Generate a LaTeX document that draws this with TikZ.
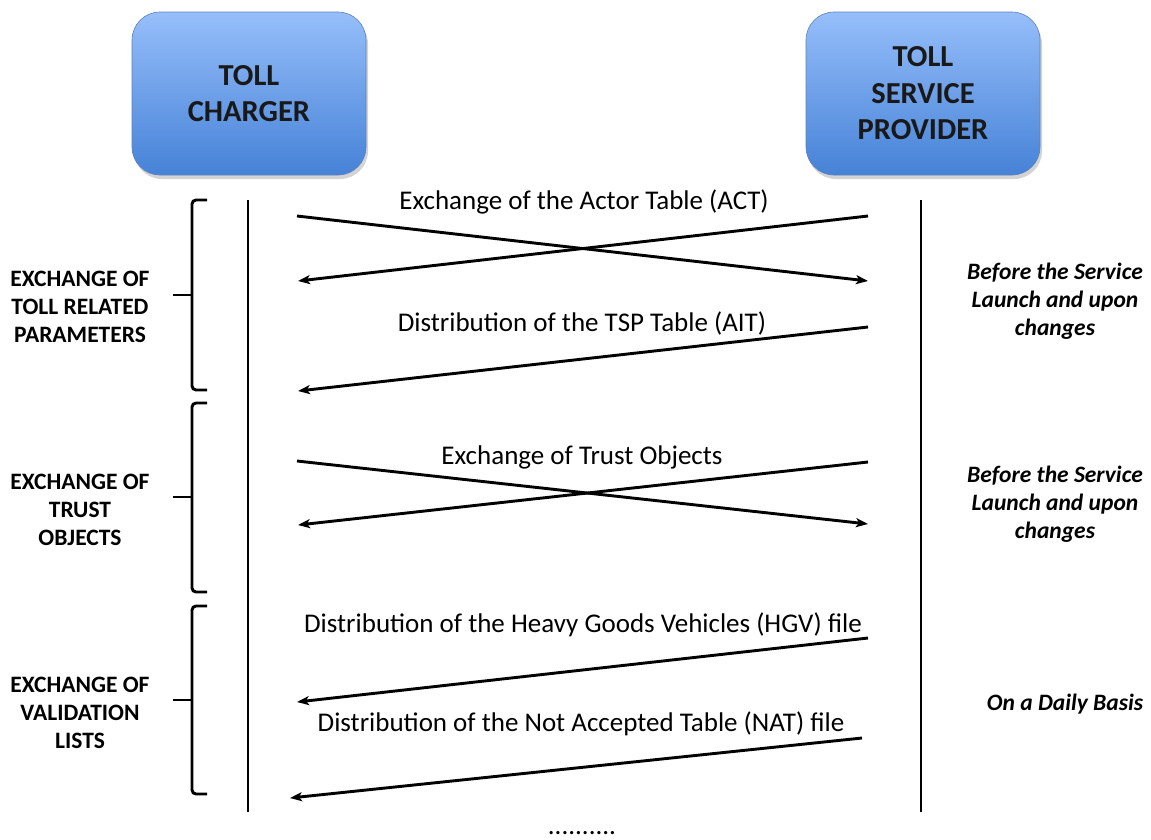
\documentclass[tikz,border=0pt]{standalone}
\usepackage{fontspec}
\setmainfont{Carlito}
\usetikzlibrary{arrows.meta,shadows}
\definecolor{boxtop}{RGB}{150,190,250}
\definecolor{boxbot}{RGB}{70,130,215}
\definecolor{boxedge}{RGB}{90,130,190}
\begin{document}
\begin{tikzpicture}[x=1pt,y=-1pt,
  actor/.style={rounded corners=28pt, minimum width=234pt, minimum height=163pt,
    top color=boxtop, bottom color=boxbot, draw=boxedge, line width=0.6pt,
    drop shadow={opacity=0.35, shadow xshift=2pt, shadow yshift=-4pt},
    font=\bfseries\fontsize{30.5}{36.5}\selectfont, align=center, text=black!90, inner sep=0pt},
  life/.style={line width=2.9pt},
  msg/.style={line width=2.9pt, -{Stealth[length=12pt,width=9pt,inset=3pt]}},
  msglabel/.style={font=\fontsize{27}{32}\selectfont, anchor=base, inner sep=0pt},
  brace/.style={line width=2.9pt, rounded corners=4pt},
  phase/.style={font=\bfseries\fontsize{23.5}{28}\selectfont, align=center, inner sep=0pt},
  when/.style={font=\bfseries\itshape\fontsize{23.5}{28}\selectfont, align=center, inner sep=0pt}
]
\useasboundingbox (0,0) rectangle (1151,839);

% actors
\node[actor] (tc) at (249,93.5) {TOLL\\CHARGER};
\node[actor] (tsp) at (923,93.5) {TOLL\\SERVICE\\PROVIDER};

% lifelines
\coordinate (lt) at (248,200);
\coordinate (lb) at (248,812);
\coordinate (rt) at (921,200);
\coordinate (rb) at (921,812);
\draw[life] (lt) -- (lb);
\draw[life] (rt) -- (rb);

% message end points
\coordinate (a1s) at (297,216); \coordinate (a1e) at (868,281);
\coordinate (a2s) at (868,216); \coordinate (a2e) at (298,281);
\coordinate (a3s) at (868,327); \coordinate (a3e) at (298,391);
\coordinate (a4s) at (297,461); \coordinate (a4e) at (868,524);
\coordinate (a5s) at (868,462); \coordinate (a5e) at (298,525);
\coordinate (a6s) at (868,638); \coordinate (a6e) at (297,702);
\coordinate (a7s) at (862,738); \coordinate (a7e) at (290,798);

\draw[msg] (a1s) -- (a1e);
\draw[msg] (a2s) -- (a2e);
\draw[msg] (a3s) -- (a3e);
\draw[msg] (a4s) -- (a4e);
\draw[msg] (a5s) -- (a5e);
\draw[msg] (a6s) -- (a6e);
\draw[msg] (a7s) -- (a7e);

% message labels
\node[msglabel] (l1) at (584,209) {Exchange of the Actor Table (ACT)};
\node[msglabel] (l2) at (582,331) {Distribution of the TSP Table (AIT)};
\node[msglabel] (l3) at (582,464) {Exchange of Trust Objects};
\node[msglabel] (l4) at (583,632) {Distribution of the Heavy Goods Vehicles (HGV) file};
\node[msglabel] (l5) at (581,731) {Distribution of the Not Accepted Table (NAT) file};
\node[msglabel] (dots) at (582,834) {..........};

% braces
\draw[brace] (207,200) -| (192,295) |- (207,390);
\draw[line width=2.9pt] (173,295) -- (192,295);
\draw[brace] (207,403) -| (192,497) |- (207,592);
\draw[line width=2.9pt] (173,497) -- (192,497);
\draw[brace] (207,606) -| (192,700) |- (207,794);
\draw[line width=2.9pt] (173,700) -- (192,700);

% phase labels
\node[phase] (p1) at (80,307) {EXCHANGE OF\\TOLL RELATED\\PARAMETERS};
\node[phase] (p2) at (80,510) {EXCHANGE OF\\TRUST\\OBJECTS};
\node[phase] (p3) at (80,713) {EXCHANGE OF\\VALIDATION\\LISTS};

% timing labels
\node[when] (w1) at (1055,301) {Before the Service\\Launch and upon\\changes};
\node[when] (w2) at (1055,504) {Before the Service\\Launch and upon\\changes};
\node[when] (w3) at (1065,704) {On a Daily Basis};
\end{tikzpicture}
\end{document}
